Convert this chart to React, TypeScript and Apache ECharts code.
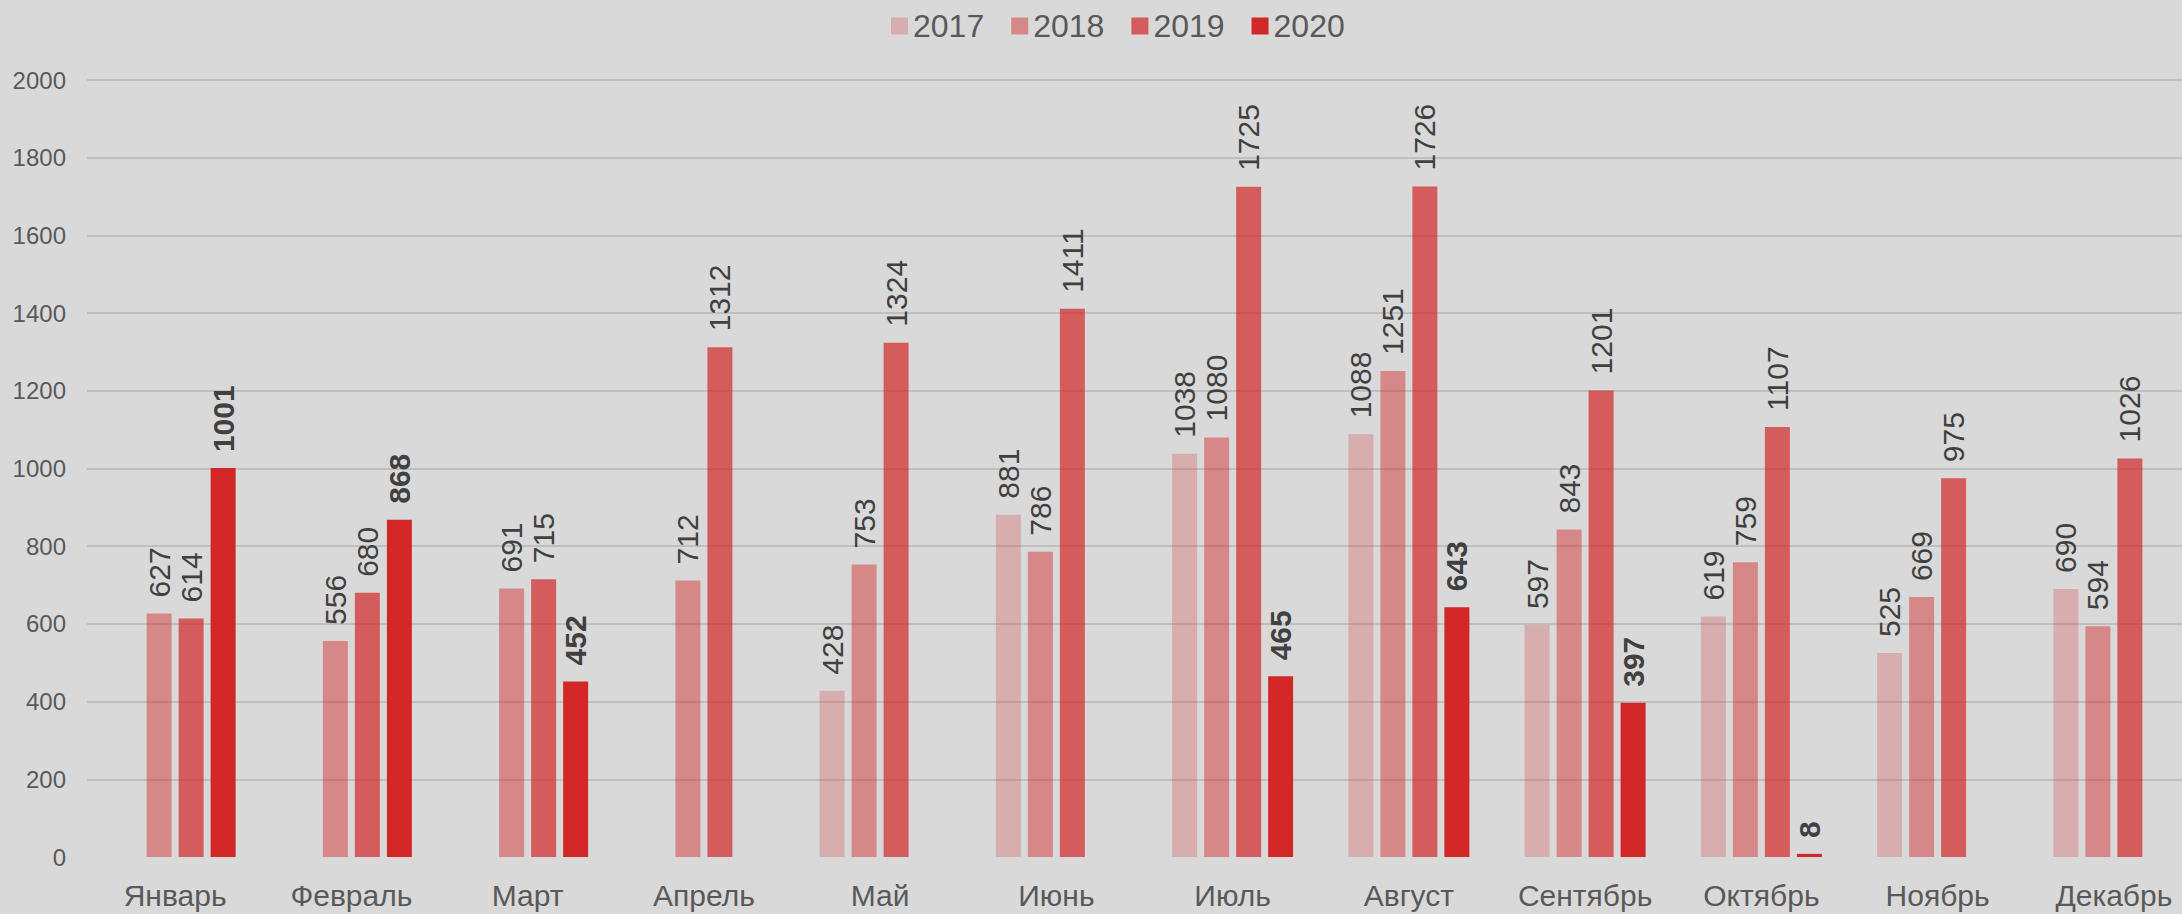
import React, { useEffect, useRef } from "react";
import * as echarts from "echarts";

const months = ["Январь", "Февраль", "Март", "Апрель", "Май", "Июнь", "Июль", "Август", "Сентябрь", "Октябрь", "Ноябрь", "Декабрь"];
const seriesNames = ["2017", "2018", "2019", "2020"];
const v2017 = ["-", "-", "-", "-", 428, 881, 1038, 1088, 597, 619, 525, 690];
const v2018 = [627, 556, 691, 712, 753, 786, 1080, 1251, 843, 759, 669, 594];
const v2019 = [614, 680, 715, 1312, 1324, 1411, 1725, 1726, 1201, 1107, 975, 1026];
const v2020 = [1001, 868, 452, "-", "-", "-", 465, 643, 397, 8, "-", "-"];
const yTicks = { min: 0, max: 2000, interval: 200 };

const colors = [
  "rgba(210,30,30,0.23)",
  "rgba(210,30,30,0.43)",
  "rgba(210,30,30,0.67)",
  "rgba(210,30,30,0.95)",
];

export default function App() {
  const ref = useRef<HTMLDivElement>(null);
  useEffect(() => {
    if (!ref.current) return;
    const chart = echarts.init(ref.current, null, { renderer: "svg" });
    const font = "'Liberation Sans', Arial, sans-serif";
    const all = [v2017, v2018, v2019, v2020];
    chart.setOption({
      animation: false,
      backgroundColor: "#d9d9d9",
      textStyle: { fontFamily: font },
      legend: {
        data: seriesNames,
        left: 891,
        top: 10,
        padding: 0,
        itemWidth: 17,
        itemHeight: 17,
        itemGap: 27,
        icon: "rect",
        textStyle: { fontSize: 32, color: "#595959", fontFamily: font },
      },
      grid: { left: 87, right: 0, top: 80, bottom: 57, containLabel: false },
      xAxis: {
        type: "category",
        data: months,
        axisLine: { show: false },
        axisTick: { show: false },
        axisLabel: { fontSize: 30, color: "#595959", margin: 23, fontFamily: font, interval: 0 },
      },
      yAxis: {
        type: "value",
        min: yTicks.min,
        max: yTicks.max,
        interval: yTicks.interval,
        axisLine: { show: false },
        axisTick: { show: false },
        axisLabel: {
          fontSize: 24,
          color: "#595959",
          margin: 21,
          fontFamily: font,
          formatter: (v: number) => String(v),
        },
        splitLine: { show: true, showMinLine: false, lineStyle: { color: "#bfbfbf", width: 2 } },
      },
      series: all.map((d, i) => ({
        name: seriesNames[i],
        type: "bar",
        data: d,
        barWidth: 25,
        barGap: "28%",
        itemStyle: { color: colors[i] },
        label: {
          show: true,
          position: "top",
          rotate: 90,
          align: "left",
          verticalAlign: "middle",
          distance: 16,
          fontSize: 30,
          color: "#404040",
          fontWeight: i === 3 ? "bold" : "normal",
          fontFamily: font,
        },
      })),
    });
    return () => chart.dispose();
  }, []);
  return (
    <div
      style={{ position: "absolute", left: 0, top: 0, width: 2182, height: 914, overflow: "hidden" }}
    >
      <div ref={ref} style={{ width: 2202, height: 914 }} />
    </div>
  );
}
